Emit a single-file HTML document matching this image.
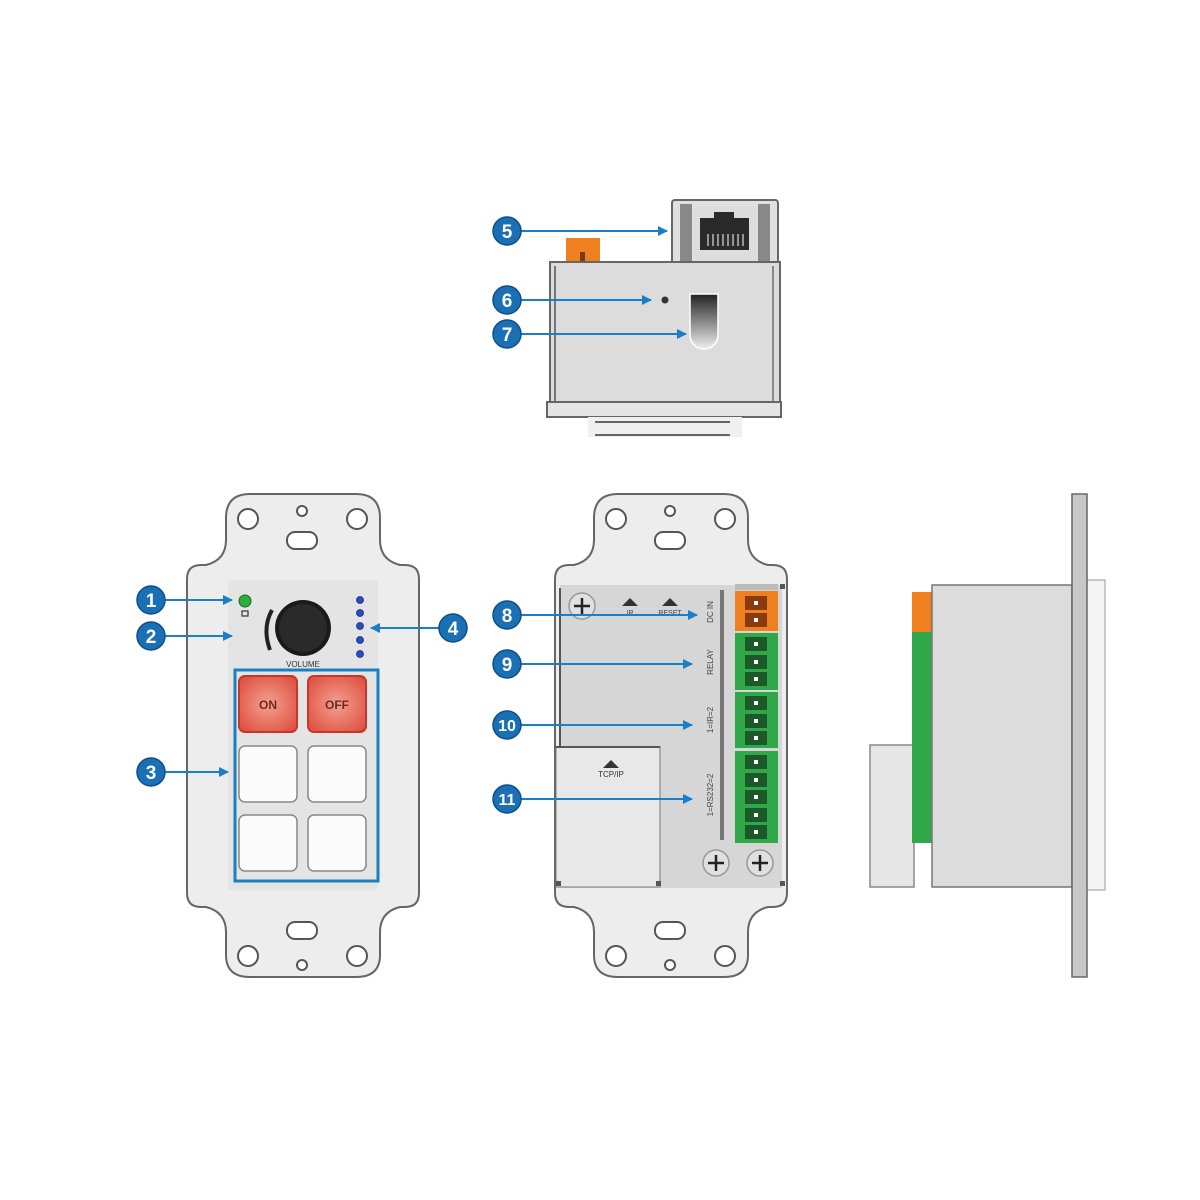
<!DOCTYPE html>
<html><head><meta charset="utf-8"><style>html,body{margin:0;padding:0;background:#fff}svg{display:block}</style></head>
<body>
<svg width="1200" height="1200" viewBox="0 0 1200 1200" xmlns="http://www.w3.org/2000/svg" font-family="Liberation Sans, sans-serif">
<defs>
<marker id="ar" markerWidth="10" markerHeight="10" refX="9" refY="5" orient="auto" markerUnits="userSpaceOnUse"><path d="M0,0 L10,5 L0,10 z" fill="#1a7fc8"/></marker>
<linearGradient id="slot" x1="0" y1="0" x2="0" y2="1"><stop offset="0" stop-color="#222"/><stop offset="1" stop-color="#eee"/></linearGradient>
<radialGradient id="red" cx="0.5" cy="0.5" r="0.6"><stop offset="0" stop-color="#f4a090"/><stop offset="1" stop-color="#e05545"/></radialGradient>
<g id="plate">
<path d="M250,494 H356 Q380,494 380,518 V540 Q380,560 400,565 H405 Q419,565 419,579 V893 Q419,907 405,907 H400 Q380,912 380,932 V955 Q380,977 356,977 H250 Q226,977 226,955 V932 Q226,912 206,907 H201 Q187,907 187,893 V579 Q187,565 201,565 H206 Q226,560 226,540 V518 Q226,494 250,494 Z" fill="#ededed" stroke="#666" stroke-width="2"/>
<circle cx="248" cy="519" r="10" fill="#fff" stroke="#555" stroke-width="2"/>
<circle cx="357" cy="519" r="10" fill="#fff" stroke="#555" stroke-width="2"/>
<circle cx="302" cy="511" r="5" fill="#fff" stroke="#555" stroke-width="2"/>
<rect x="287" y="532" width="30" height="17" rx="8" fill="#fff" stroke="#555" stroke-width="2"/>
<circle cx="248" cy="956" r="10" fill="#fff" stroke="#555" stroke-width="2"/>
<circle cx="357" cy="956" r="10" fill="#fff" stroke="#555" stroke-width="2"/>
<circle cx="302" cy="965" r="5" fill="#fff" stroke="#555" stroke-width="2"/>
<rect x="287" y="922" width="30" height="17" rx="8" fill="#fff" stroke="#555" stroke-width="2"/>
</g>
</defs>

<!-- TOP VIEW -->
<rect x="672" y="200" width="106" height="64" rx="3" fill="#e0e0e0" stroke="#666" stroke-width="2"/>
<rect x="680" y="204" width="12" height="58" fill="#888"/>
<rect x="758" y="204" width="12" height="58" fill="#888"/>
<rect x="694" y="206" width="62" height="56" fill="#ddd"/>
<path d="M700,218 H714 V212 H734 V218 H749 V250 H700 Z" fill="#2a2a2a"/>
<g stroke="#ddd" stroke-width="1.2"><line x1="708" y1="234" x2="708" y2="246"/><line x1="713" y1="234" x2="713" y2="246"/><line x1="718" y1="234" x2="718" y2="246"/><line x1="723" y1="234" x2="723" y2="246"/><line x1="728" y1="234" x2="728" y2="246"/><line x1="733" y1="234" x2="733" y2="246"/><line x1="738" y1="234" x2="738" y2="246"/><line x1="743" y1="234" x2="743" y2="246"/></g>
<rect x="566" y="238" width="34" height="30" fill="#ee8020"/>
<rect x="580" y="252" width="5" height="14" fill="#7a3a10"/>
<rect x="550" y="262" width="230" height="144" fill="#dcdcdc" stroke="#666" stroke-width="2"/>
<line x1="555" y1="266" x2="555" y2="404" stroke="#777" stroke-width="2"/>
<line x1="773" y1="266" x2="773" y2="404" stroke="#888" stroke-width="2"/>
<rect x="547" y="402" width="234" height="15" fill="#e4e4e4" stroke="#666" stroke-width="2"/>
<rect x="588" y="417" width="154" height="20" fill="#f0f0f0"/>
<line x1="595" y1="422" x2="730" y2="422" stroke="#666" stroke-width="2"/>
<line x1="595" y1="435" x2="730" y2="435" stroke="#666" stroke-width="2"/>
<circle cx="665" cy="300" r="3.5" fill="#333"/>
<path d="M690,294 H718 V335 A14,14 0 0 1 690,335 Z" fill="url(#slot)" stroke="#fff" stroke-width="1.5"/>

<!-- FRONT PLATE -->
<use href="#plate"/>
<rect x="228" y="580" width="150" height="310" rx="3" fill="#e4e4e4"/>
<circle cx="245" cy="601" r="6" fill="#2cb040" stroke="#176a22"/>
<rect x="242" y="611" width="6" height="5" fill="none" stroke="#333" stroke-width="1.2"/>
<path d="M272,610 Q262,628 270,650" stroke="#222" stroke-width="4" fill="none"/>
<circle cx="303" cy="628" r="28" fill="#1a1a1a"/>
<circle cx="303" cy="628" r="24" fill="#2a2a2a"/>
<text x="303" y="667" font-size="8" text-anchor="middle" fill="#333">VOLUME</text>
<g fill="#2d4cc0" stroke="#1a2a80" stroke-width="0.8"><circle cx="360" cy="600" r="3.5"/><circle cx="360" cy="613" r="3.5"/><circle cx="360" cy="626" r="3.5"/><circle cx="360" cy="640" r="3.5"/><circle cx="360" cy="654" r="3.5"/></g>
<rect x="235" y="670" width="143" height="211" fill="none" stroke="#1a80bf" stroke-width="3"/>
<rect x="239" y="676" width="58" height="56" rx="6" fill="url(#red)" stroke="#c0392b" stroke-width="2"/>
<rect x="308" y="676" width="58" height="56" rx="6" fill="url(#red)" stroke="#c0392b" stroke-width="2"/>
<text x="268" y="709" font-size="12" font-weight="bold" text-anchor="middle" fill="#6a2a20">ON</text>
<text x="337" y="709" font-size="12" font-weight="bold" text-anchor="middle" fill="#6a2a20">OFF</text>
<g fill="#fbfbfb" stroke="#888" stroke-width="1.5">
<rect x="239" y="746" width="58" height="56" rx="6"/><rect x="308" y="746" width="58" height="56" rx="6"/>
<rect x="239" y="815" width="58" height="56" rx="6"/><rect x="308" y="815" width="58" height="56" rx="6"/></g>

<!-- BACK PLATE -->
<use href="#plate" transform="translate(368,0)"/>
<rect x="560" y="585" width="222" height="303" fill="#d6d6d6"/>
<line x1="560" y1="588" x2="560" y2="748" stroke="#555" stroke-width="2"/>
<rect x="556" y="747" width="104" height="140" fill="#e8e8e8" stroke="#777" stroke-width="1"/>
<line x1="556" y1="747" x2="660" y2="747" stroke="#555" stroke-width="2"/>
<rect x="556" y="881" width="5" height="5" fill="#555"/><rect x="656" y="881" width="5" height="5" fill="#555"/><rect x="780" y="584" width="5" height="5" fill="#555"/><rect x="780" y="881" width="5" height="5" fill="#555"/>
<path d="M603,768 L611,760 L619,768 Z" fill="#333"/>
<text x="611" y="777" font-size="8" text-anchor="middle" fill="#333">TCP/IP</text>
<path d="M622,606 L630,598 L638,606 Z" fill="#333"/><text x="630" y="615" font-size="7" text-anchor="middle" fill="#444">IR</text>
<path d="M662,606 L670,598 L678,606 Z" fill="#333"/><text x="670" y="615" font-size="7" text-anchor="middle" fill="#444">RESET</text>
<g fill="#e0e0e0" stroke="#999" stroke-width="1.5"><circle cx="582" cy="606" r="13"/><circle cx="716" cy="863" r="13"/><circle cx="760" cy="863" r="13"/></g>
<g stroke="#222" stroke-width="2.5"><path d="M574,606 H590 M582,598 V614"/><path d="M708,863 H724 M716,855 V871"/><path d="M752,863 H768 M760,855 V871"/></g>
<rect x="720" y="590" width="4" height="250" fill="#777"/>
<g font-size="8" fill="#444" text-anchor="middle">
<text transform="translate(713,612) rotate(-90)">DC IN</text>
<text transform="translate(713,662) rotate(-90)">RELAY</text>
<text transform="translate(713,720) rotate(-90)">1=IR=2</text>
<text transform="translate(713,795) rotate(-90)">1=RS232=2</text></g>
<rect x="735" y="584" width="43" height="6" fill="#bbb"/>
<rect x="735" y="591" width="43" height="40" fill="#ee8020"/>
<rect x="735" y="633" width="43" height="57" fill="#2fa84a"/>
<rect x="735" y="692" width="43" height="56" fill="#2fa84a"/>
<rect x="735" y="751" width="43" height="92" fill="#2fa84a"/>
<g fill="#1b5a28"><rect x="745" y="637" width="22" height="14"/><rect x="745" y="655" width="22" height="14"/><rect x="745" y="672" width="22" height="14"/>
<rect x="745" y="696" width="22" height="14"/><rect x="745" y="714" width="22" height="14"/><rect x="745" y="731" width="22" height="14"/>
<rect x="745" y="755" width="22" height="14"/><rect x="745" y="773" width="22" height="14"/><rect x="745" y="790" width="22" height="14"/><rect x="745" y="808" width="22" height="14"/><rect x="745" y="825" width="22" height="14"/></g>
<g fill="#8a3a10"><rect x="745" y="596" width="22" height="14"/><rect x="745" y="613" width="22" height="14"/></g>
<g fill="#fff"><rect x="754" y="601" width="4" height="4"/><rect x="754" y="618" width="4" height="4"/>
<rect x="754" y="642" width="4" height="4"/><rect x="754" y="660" width="4" height="4"/><rect x="754" y="677" width="4" height="4"/>
<rect x="754" y="701" width="4" height="4"/><rect x="754" y="719" width="4" height="4"/><rect x="754" y="736" width="4" height="4"/>
<rect x="754" y="760" width="4" height="4"/><rect x="754" y="778" width="4" height="4"/><rect x="754" y="795" width="4" height="4"/><rect x="754" y="813" width="4" height="4"/><rect x="754" y="830" width="4" height="4"/></g>

<!-- SIDE VIEW -->
<rect x="870" y="745" width="44" height="142" fill="#e6e6e6" stroke="#888" stroke-width="1.5"/>
<rect x="912" y="592" width="20" height="40" fill="#ee8020"/>
<rect x="912" y="632" width="20" height="211" fill="#2fa84a"/>
<rect x="932" y="585" width="140" height="302" fill="#dcdcdc" stroke="#777" stroke-width="1.5"/>
<rect x="1087" y="580" width="18" height="310" fill="#f4f4f4" stroke="#999" stroke-width="1"/>
<rect x="1072" y="494" width="15" height="483" fill="#c8c8c8" stroke="#666" stroke-width="1.5"/>

<!-- CALLOUTS -->
<g stroke="#1a7fc8" stroke-width="2" marker-end="url(#ar)">
<line x1="160" y1="600" x2="232" y2="600"/><line x1="160" y1="636" x2="232" y2="636"/><line x1="160" y1="772" x2="228" y2="772"/><line x1="444" y1="628" x2="371" y2="628"/>
<line x1="516" y1="231" x2="667" y2="231"/><line x1="516" y1="300" x2="651" y2="300"/><line x1="516" y1="334" x2="686" y2="334"/>
<line x1="516" y1="615" x2="697" y2="615"/><line x1="516" y1="664" x2="692" y2="664"/><line x1="516" y1="725" x2="692" y2="725"/><line x1="516" y1="799" x2="692" y2="799"/></g>
<g fill="#1a6fb5" stroke="#0d4f8a" stroke-width="1.5">
<circle cx="151" cy="600" r="14"/><circle cx="151" cy="636" r="14"/><circle cx="151" cy="772" r="14"/><circle cx="453" cy="628" r="14"/>
<circle cx="507" cy="231" r="14"/><circle cx="507" cy="300" r="14"/><circle cx="507" cy="334" r="14"/>
<circle cx="507" cy="615" r="14"/><circle cx="507" cy="664" r="14"/><circle cx="507" cy="725" r="14"/><circle cx="507" cy="799" r="14"/></g>
<g fill="#fff" font-size="19" font-weight="bold" text-anchor="middle">
<text x="151" y="607">1</text><text x="151" y="643">2</text><text x="151" y="779">3</text><text x="453" y="635">4</text>
<text x="507" y="238">5</text><text x="507" y="307">6</text><text x="507" y="341">7</text>
<text x="507" y="622">8</text><text x="507" y="671">9</text><text x="507" y="731" font-size="16">10</text><text x="507" y="805" font-size="16">11</text></g>
</svg>
</body></html>
